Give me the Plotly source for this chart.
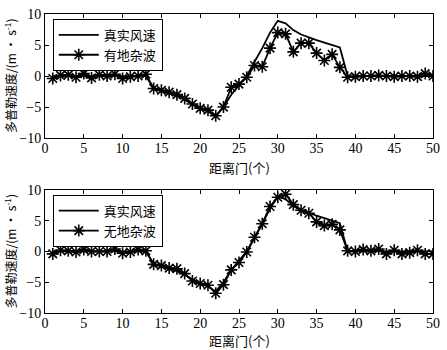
import plotly.graph_objects as go

gates = list(range(1, 51))

true_wind = [0, 0, 0, 0, 0, 0, 0, 0, 0, 0, 0, 0, 0,
             -2.0, -2.4, -2.8, -3.2, -3.8, -4.5, -5.2, -5.7, -6.5,
             -5.0, -3.0, -1.5, 0.0, 2.3, 4.5, 7.0, 8.9, 8.5,
             7.4, 6.7, 6.2, 5.8, 5.4, 5.0, 4.6,
             0, 0, 0, 0, 0, 0, 0, 0, 0, 0, 0, 0]

with_clutter = [-0.4, 0.1, 0.2, -0.2, 0.4, -0.3, 0.2, 0.0, 0.3, -0.4, -0.1, 0.0, 0.3,
                -2.0, -2.3, -2.6, -3.0, -3.6, -4.5, -5.2, -5.5, -6.4,
                -5.0, -1.8, -1.3, -0.2, 1.7, 1.5, 4.5, 7.0, 6.8,
                3.9, 5.3, 5.3, 3.7, 2.5, 3.5, 1.4,
                -0.2, -0.1, 0.0, 0.0, 0.1, 0.0, -0.1, 0.0, 0.0, -0.1, 0.4, 0.0]

no_clutter = [-0.4, 0.2, 0.1, -0.1, 0.3, 0.0, 0.0, 0.0, 0.4, -0.3, -0.1, 0.3, 0.1,
              -2.1, -2.3, -2.7, -2.8, -3.6, -4.8, -5.2, -5.5, -6.8,
              -5.4, -3.0, -1.8, -0.1, 2.3, 4.5, 7.3, 8.8, 9.3,
              7.6, 6.7, 6.2, 4.8, 4.2, 4.4, 3.5,
              0.1, 0.0, 0.3, 0.1, 0.4, -0.4, 0.2, -0.4, -0.2, 0.2, -0.4, -0.4]

x_ticks = [0, 5, 10, 15, 20, 25, 30, 35, 40, 45, 50]
y_ticks = [-10, -5, 0, 5, 10]

label_true = "真实风速"
label_with = "有地杂波"
label_without = "无地杂波"
x_title = "距离门(个)"
y_title = "多普勒速度/(m · s<sup>-1</sup>)"

SERIF = "Liberation Serif, Noto Sans CJK SC, serif"
CJK = "Noto Sans CJK SC, Liberation Serif, serif"

fig = go.Figure()

line_style = dict(color="black", width=1.8)
marker_style = dict(symbol="asterisk-open", size=10, color="black",
                    line=dict(color="black", width=1.6))

fig.add_trace(go.Scatter(x=gates, y=true_wind, mode="lines", name=label_true,
                         line=line_style, xaxis="x", yaxis="y", legend="legend"))
fig.add_trace(go.Scatter(x=gates, y=with_clutter, mode="lines+markers", name=label_with,
                         line=line_style, marker=marker_style, xaxis="x", yaxis="y",
                         legend="legend"))
fig.add_trace(go.Scatter(x=gates, y=true_wind, mode="lines", name=label_true,
                         line=line_style, xaxis="x2", yaxis="y2", legend="legend2"))
fig.add_trace(go.Scatter(x=gates, y=no_clutter, mode="lines+markers", name=label_without,
                         line=line_style, marker=marker_style, xaxis="x2", yaxis="y2",
                         legend="legend2"))

axis_common = dict(showline=True, linecolor="black", linewidth=1, mirror="ticks",
                   ticks="inside", ticklen=4, tickcolor="black", showgrid=False,
                   zeroline=False, tickfont=dict(family=SERIF, size=14, color="black"))

H = 306.0
BOT = 313.0
top_dom = [(BOT - 134) / H, 1.0]
bot_dom = [0.0, (BOT - 187) / H]

fig.update_layout(
    width=447, height=350,
    margin=dict(l=45, r=8, t=7, b=37),
    paper_bgcolor="white", plot_bgcolor="white",
    xaxis=dict(domain=[0, 1], anchor="y", range=[0, 50], tickvals=x_ticks,
               ticklabelstandoff=-3, **axis_common),
    yaxis=dict(domain=top_dom, anchor="x", range=[-10, 10], tickvals=y_ticks, **axis_common),
    xaxis2=dict(domain=[0, 1], anchor="y2", range=[0, 50], tickvals=x_ticks,
                ticklabelstandoff=-3, **axis_common),
    yaxis2=dict(domain=bot_dom, anchor="x2", range=[-10, 10], tickvals=y_ticks, **axis_common),
    legend=dict(x=0.02, y=(BOT - 12) / H, xanchor="left", yanchor="top",
                bgcolor="white", bordercolor="black", borderwidth=1,
                font=dict(family=CJK, size=13, color="black"),
                tracegroupgap=0, itemwidth=40),
    legend2=dict(x=0.02, y=(BOT - 192) / H, xanchor="left", yanchor="top",
                 bgcolor="white", bordercolor="black", borderwidth=1,
                 font=dict(family=CJK, size=13, color="black"),
                 tracegroupgap=0, itemwidth=40),
    showlegend=True,
)

annotations = []
for dom in (top_dom, bot_dom):
    annotations.append(dict(text=y_title, textangle=-90, xref="paper", yref="paper",
                            x=0, xshift=-35, y=(dom[0] + dom[1]) / 2,
                            xanchor="center", yanchor="middle", showarrow=False,
                            font=dict(family=CJK, size=12, color="black")))
for ypix in (164, 341):
    annotations.append(dict(text=x_title, xref="paper", yref="paper",
                            x=0.5, y=(BOT - ypix) / H, xanchor="center", yanchor="middle",
                            showarrow=False,
                            font=dict(family=CJK, size=13, color="black")))
fig.update_layout(annotations=annotations)

fig.write_html("out.html")
